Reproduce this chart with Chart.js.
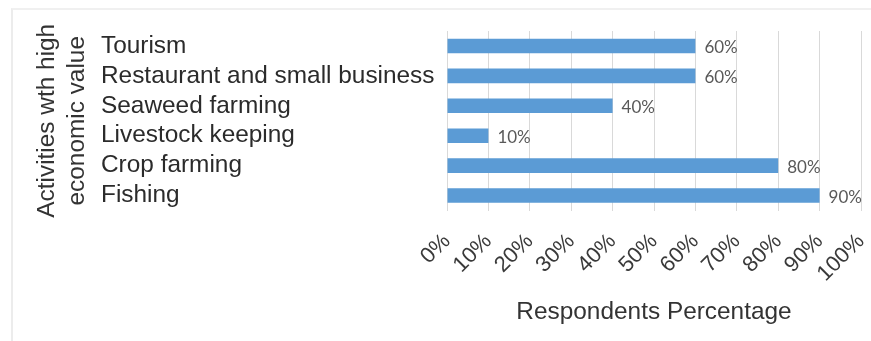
<!DOCTYPE html>
<html>
<head>
<meta charset="utf-8">
<script src="https://cdn.jsdelivr.net/npm/chart.js@4.4.1/dist/chart.umd.min.js"></script>
<style>
    html, body { margin: 0; padding: 0; background: #ffffff; }
    #wrap { position: relative; width: 871px; height: 341px; overflow: hidden; }
    /* light frame around the figure */
    #frame {
        position: absolute; left: 11px; top: 8px; right: -4px; bottom: -4px;
        border-left: 2px solid #ececec; border-top: 2px solid #f0f0f0;
    }
    #chart { position: absolute; left: 0; top: 0; }
</style>
</head>
<body>
<div id="wrap">
    <div id="frame"></div>
    <canvas id="chart" width="871" height="341"></canvas>
</div>
<script>
/* ================== DATA ================== */
const activities = [
    "Tourism",
    "Restaurant and small business",
    "Seaweed farming",
    "Livestock keeping",
    "Crop farming",
    "Fishing"
];
const shares = [60, 60, 40, 10, 80, 90];
const xTickLabels = ["0%", "10%", "20%", "30%", "40%", "50%", "60%", "70%", "80%", "90%", "100%"];

const yTitle = ["Activities wth high", "economic value"];
const xTitle = "Respondents Percentage";

/* ================== STYLE ================== */
const FONT = "'Liberation Sans', Arial, sans-serif";
const BAR_BLUE = "#5b9bd5";
const GRID_GREY = "#d9d9d9";

/* value text at the end of each bar */
const barValueLabels = {
    id: "barValueLabels",
    afterDatasetsDraw(chart) {
        const ctx = chart.ctx;
        const meta = chart.getDatasetMeta(0);
        ctx.save();
        ctx.font = "17px Lato, 'Open Sans', sans-serif";
        ctx.fillStyle = "#595959";
        ctx.textAlign = "left";
        ctx.textBaseline = "middle";
        meta.data.forEach((bar, i) => {
            ctx.fillText(shares[i] + "%", bar.x + 9, bar.y + 2);
        });
        ctx.restore();
    }
};

/* ================== CHART ================== */
new Chart(document.getElementById("chart"), {
    type: "bar",
    data: {
        labels: activities,
        datasets: [{
            data: shares,
            yAxisID: "y",
            backgroundColor: BAR_BLUE,
            borderWidth: 0,
            categoryPercentage: 0.5,
            barPercentage: 0.97
        }]
    },
    options: {
        indexAxis: "y",
        responsive: false,
        animation: false,
        devicePixelRatio: 1,
        layout: { padding: { top: 31, right: 10, bottom: 0, left: 0 } },
        plugins: {
            legend: { display: false },
            tooltip: { enabled: false }
        },
        scales: {
            x: {
                min: 0,
                max: 100,
                grid: { color: GRID_GREY, lineWidth: 1, drawTicks: false },
                border: { display: false },
                ticks: {
                    stepSize: 10,
                    autoSkip: false,
                    minRotation: 45,
                    maxRotation: 45,
                    padding: 18,
                    color: "#3a3a3a",
                    font: { family: FONT, size: 22 },
                    callback: (v, i) => xTickLabels[i]
                },
                title: {
                    display: true,
                    text: xTitle,
                    color: "#333333",
                    font: { family: FONT, size: 24.4, lineHeight: 1.25 },
                    padding: { top: 0, bottom: 13.5 }
                },
                afterFit(scale) {
                    scale.height = 130.5;
                    // rotated tick labels may overhang; keep the plot wide
                    scale.paddingRight = 0;
                }
            },
            // category names, left-aligned in their own column
            y: {
                position: "left",
                weight: 0,
                grid: { display: false, drawTicks: false },
                border: { display: false },
                ticks: {
                    autoSkip: false,
                    crossAlign: "far",
                    padding: 0,
                    color: "#2b2b2b",
                    font: { family: FONT, size: 24.4 }
                },
                afterFit(scale) { scale.width = 346; }
            },
            // outer column carrying only the two-line axis title
            yTitle: {
                type: "category",
                position: "left",
                weight: 1,
                grid: { display: false, drawTicks: false },
                border: { display: false },
                ticks: { display: false },
                title: {
                    display: true,
                    text: yTitle,
                    color: "#333333",
                    font: { family: FONT, size: 24.4, lineHeight: 1.25 },
                    padding: { top: 32, bottom: 0 }
                },
                afterFit(scale) { scale.width = 101; }
            }
        }
    },
    plugins: [barValueLabels]
});
</script>
</body>
</html>
